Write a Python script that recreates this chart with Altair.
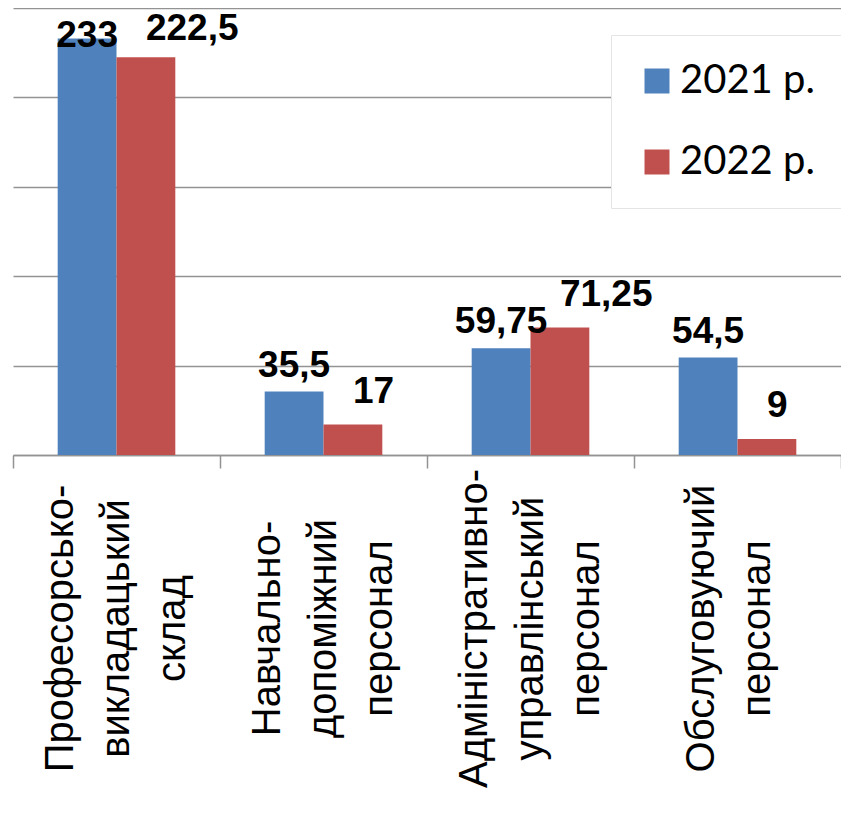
import altair as alt
import pandas as pd

categories = [
    "Професорсько-\nвикладацький\nсклад",
    "Навчально-\nдопоміжний\nперсонал",
    "Адміністративно-\nуправлінський\nперсонал",
    "Обслуговуючий\nперсонал",
]
series = ["2021 р.", "2022 р."]
values_2021 = [233, 35.5, 59.75, 54.5]
values_2022 = [222.5, 17, 71.25, 9]
colors = ["#4F81BD", "#C0504D"]


def fmt(v):
    s = ("%g" % v)
    return s.replace(".", ",")


rows = []
for cat, a, b in zip(categories, values_2021, values_2022):
    rows.append({"category": cat, "series": series[0], "value": a, "label": fmt(a)})
    rows.append({"category": cat, "series": series[1], "value": b, "label": fmt(b)})
df = pd.DataFrame(rows)

grid_gray = "#939393"

x_axis = alt.Axis(
    title=None,
    labelAngle=270,
    labelAlign="center",
    labelBaseline={
        "condition": {"test": "length(split(datum.value, '\\n')) < 3", "value": "top"},
        "value": "middle",
    },
    labelFont="Liberation Sans",
    labelFontSize=40,
    labelColor="black",
    labelLineHeight=56,
    labelLimit=500,
    labelOverlap=False,
    labelExpr="split(datum.label, '\\n')",
    labelPadding=160,
    labelOffset=-56,
    tickBand="extent",
    tickSize=13,
    tickColor=grid_gray,
    tickWidth=1.5,
    domainColor=grid_gray,
    domainWidth=1.5,
    grid=False,
)

y_axis = alt.Axis(
    title=None,
    values=[0, 50, 100, 150, 200, 250],
    labels=False,
    ticks=False,
    domain=False,
    grid=True,
    gridColor=grid_gray,
    gridWidth=1.5,
)

x_enc = alt.X(
    "category:N",
    sort=categories,
    scale=alt.Scale(paddingInner=0, paddingOuter=0),
    axis=x_axis,
)
xo_enc = alt.XOffset(
    "series:N",
    sort=series,
    scale=alt.Scale(paddingInner=0, paddingOuter=0.76),
)
y_scale = alt.Scale(domain=[0, 250], nice=False)

bars = alt.Chart(df).mark_bar().encode(
    x=x_enc,
    xOffset=xo_enc,
    y=alt.Y("value:Q", scale=y_scale, axis=y_axis),
    color=alt.Color(
        "series:N",
        scale=alt.Scale(domain=series, range=colors),
        legend=alt.Legend(
            title=None,
            orient="none",
            legendX=598,
            legendY=27,
            direction="vertical",
            symbolType="square",
            symbolSize=625,
            symbolStrokeWidth=0,
            symbolOpacity=1,
            labelFont="Lato",
            labelFontSize=40,
            labelColor="black",
            labelOffset=3,
            labelLimit=400,
            rowPadding=41,
            padding=26,
            fillColor="white",
            strokeColor="#e4e4e4",
        ),
    ),
)

base_text = alt.Chart(df).transform_calculate(ly="min(datum.value, 220)")

text_2021 = base_text.transform_filter(alt.datum.series == series[0]).mark_text(
    font="Liberation Sans",
    fontWeight="bold",
    fontSize=37,
    color="black",
    align="center",
    baseline="alphabetic",
    dy=-15,
).encode(
    x=x_enc,
    xOffset=xo_enc,
    y=alt.Y("ly:Q", scale=y_scale, axis=y_axis),
    text="label:N",
)

text_2022 = base_text.transform_filter(alt.datum.series == series[1]).mark_text(
    font="Liberation Sans",
    fontWeight="bold",
    fontSize=37,
    color="black",
    align="left",
    baseline="alphabetic",
    dy=-22,
).encode(
    x=x_enc,
    xOffset=xo_enc,
    y=alt.Y("ly:Q", scale=y_scale, axis=y_axis),
    text="label:N",
)

chart = (
    alt.layer(bars, text_2021, text_2022)
    .properties(
        width=828,
        height=447,
        autosize=alt.AutoSizeParams(type="none"),
        padding={"left": 5, "top": 0, "right": 0, "bottom": 350},
        background="white",
    )
    .configure_view(stroke=None)
)

chart.save("out.html", embed_options={"renderer": "svg", "actions": False})
